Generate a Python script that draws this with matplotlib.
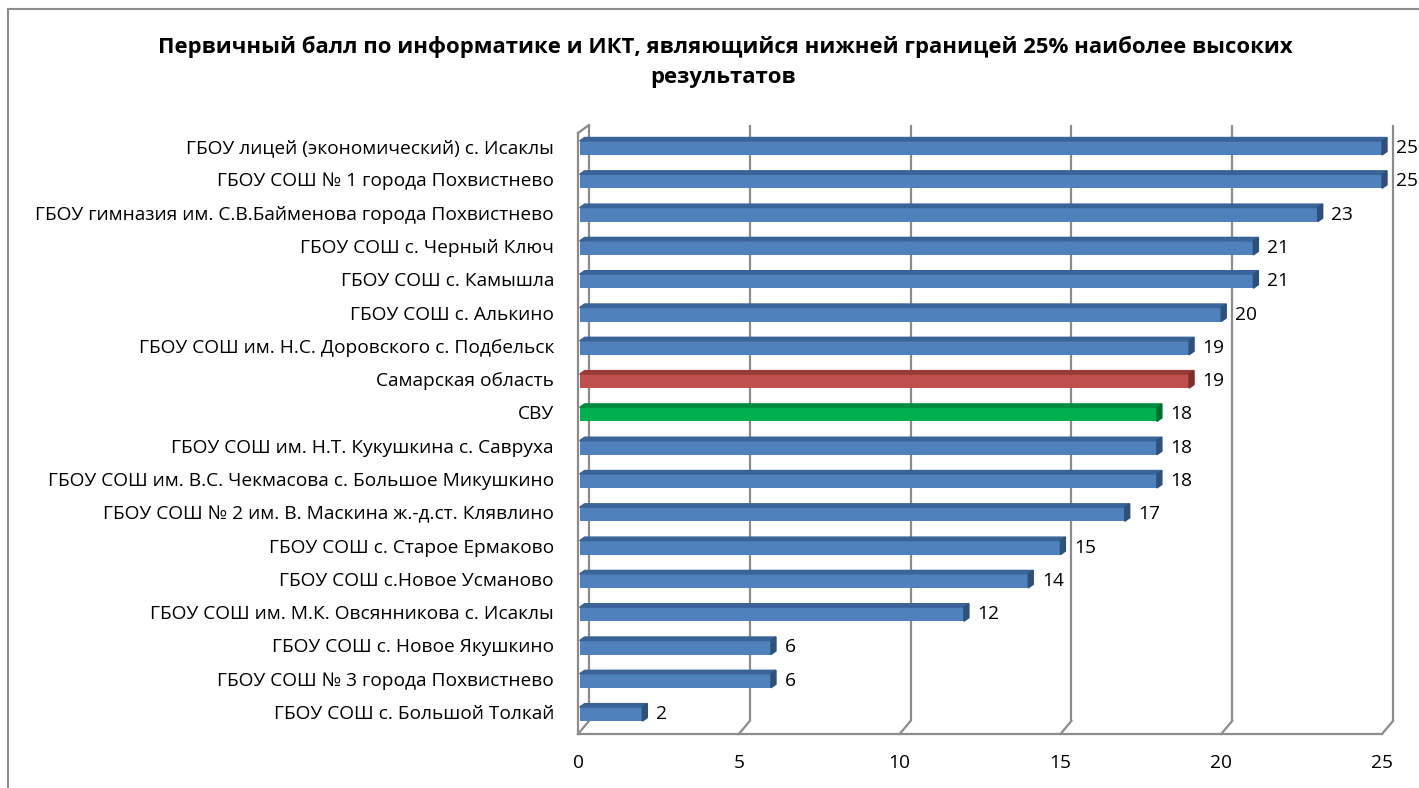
import matplotlib.pyplot as plt
from matplotlib.patches import Polygon
from matplotlib.lines import Line2D

plt.rcParams['font.family'] = ['Open Sans', 'DejaVu Sans']

# Data (top to bottom as shown)
schools = [
    "ГБОУ лицей (экономический) с. Исаклы",
    "ГБОУ СОШ № 1 города Похвистнево",
    "ГБОУ гимназия им. С.В.Байменова города Похвистнево",
    "ГБОУ СОШ с. Черный Ключ",
    "ГБОУ СОШ с. Камышла",
    "ГБОУ СОШ с. Алькино",
    "ГБОУ СОШ им. Н.С. Доровского с. Подбельск",
    "Самарская область",
    "СВУ",
    "ГБОУ СОШ им. Н.Т. Кукушкина с. Савруха",
    "ГБОУ СОШ им. В.С. Чекмасова с. Большое Микушкино",
    "ГБОУ СОШ № 2 им. В. Маскина ж.-д.ст. Клявлино",
    "ГБОУ СОШ с. Старое Ермаково",
    "ГБОУ СОШ с.Новое Усманово",
    "ГБОУ СОШ им. М.К. Овсянникова с. Исаклы",
    "ГБОУ СОШ с. Новое Якушкино",
    "ГБОУ СОШ № 3 города Похвистнево",
    "ГБОУ СОШ с. Большой Толкай",
]
scores = [25, 25, 23, 21, 21, 20, 19, 19, 18, 18, 18, 17, 15, 14, 12, 6, 6, 2]
highlight = {"Самарская область": "red", "СВУ": "green"}
x_ticks = [0, 5, 10, 15, 20, 25]

palette = {
    "blue": ("#4F81BD", "#3A6398", "#2F5078"),
    "red": ("#C0504D", "#9B3B39", "#7E2E2C"),
    "green": ("#00B050", "#008C3E", "#006E31"),
}

W, H = 1419, 788
fig = plt.figure(figsize=(W / 100, H / 100), dpi=100)

# chart frame (left and top lines only visible)
fig.add_artist(Line2D([8 / W, 8 / W], [0, 1 - 9 / H], transform=fig.transFigure, color="#8C8C8C", lw=1.5))
fig.add_artist(Line2D([8 / W, 1], [1 - 9 / H, 1 - 9 / H], transform=fig.transFigure, color="#8C8C8C", lw=1.5))

ax_left, ax_right = 578, 1382
ax_top, ax_bot = 125, 734
ax = fig.add_axes([ax_left / W, 1 - ax_bot / H, (ax_right - ax_left) / W, (ax_bot - ax_top) / H])

y0, step = 148, 33.3
ymax = (ax_bot - y0) / step
ymin = (ax_top - y0) / step
ax.set_xlim(0, 25)
ax.set_ylim(ymax, ymin)
ax.axis("off")

pxu = (ax_right - ax_left) / 25.0
dx = 11 / pxu        # wall depth
dy = 13 / step
grid_c = "#8C8C8C"
fs = 13.8

# walls / grid
for t in x_ticks:
    ax.plot([t + dx, t + dx], [ymax - dy, ymin], color=grid_c, lw=1.6, clip_on=False, solid_capstyle="butt")
    ax.plot([t, t + dx], [ymax, ymax - dy], color=grid_c, lw=1.6, clip_on=False)
    ax.text(t, ymax + 0.87, str(t), ha="center", va="center", fontsize=fs)
ax.plot([0, 25], [ymax, ymax], color=grid_c, lw=1.6, clip_on=False)
ax.plot([0, 0], [ymax, ymin + 8 / step], color=grid_c, lw=1.6, clip_on=False)
ax.plot([0, dx], [ymin + 8 / step, ymin], color=grid_c, lw=1.6, clip_on=False)

# bars with a small 3D look
h = 14 / step
bdx, bdy = 5 / pxu, 3.5 / step
for i, (name, v) in enumerate(zip(schools, scores)):
    face, top, side = palette[highlight.get(name, "blue")]
    x0 = 0.05
    yt, yb = i - h / 2, i + h / 2
    ax.barh(i, v - x0, left=x0, height=h, color=face, zorder=3)
    ax.add_patch(Polygon([(x0, yt), (v, yt), (v + bdx, yt - bdy), (x0 + bdx, yt - bdy)],
                         closed=True, color=top, zorder=3, clip_on=False))
    ax.add_patch(Polygon([(v, yt), (v, yb), (v + bdx, yb - bdy), (v + bdx, yt - bdy)],
                         closed=True, color=side, zorder=3, clip_on=False))
    ax.text(v + 0.42, i, str(v), ha="left", va="center", fontsize=fs, clip_on=False)
    ax.text(-0.75, i, name, ha="right", va="center", fontsize=fs, clip_on=False)

fig.text(725 / W, 1 - 47 / H,
         "Первичный балл по информатике и ИКТ, являющийся нижней границей 25% наиболее высоких",
         ha="center", va="center", fontsize=15.9, fontweight="bold")
fig.text(723 / W, 1 - 78 / H, "результатов", ha="center", va="center", fontsize=15.9, fontweight="bold")

fig.savefig("out.png", dpi=100)
